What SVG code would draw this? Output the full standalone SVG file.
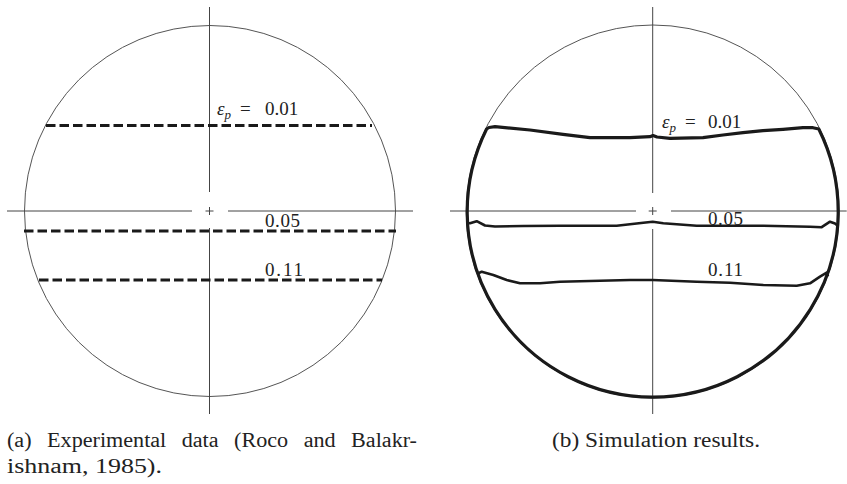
<svg xmlns="http://www.w3.org/2000/svg" width="847" height="484" viewBox="0 0 847 484">
<style>
.bg{fill:#fff}
.thin{fill:none;stroke:#555;stroke-width:1}
.axis{fill:none;stroke:#444;stroke-width:1}
.dash{fill:none;stroke:#1a1a1a;stroke-width:3;stroke-dasharray:9.5 4}
.thick{fill:none;stroke:#1a1a1a;stroke-width:2.6;stroke-linejoin:round}
.bound{fill:none;stroke:#1a1a1a;stroke-width:3.2;stroke-linejoin:round}
.lbl{font-family:"Liberation Serif","DejaVu Serif",serif;font-size:19px;fill:#222}
.cap{font-family:"Liberation Serif","DejaVu Serif",serif;font-size:20px;fill:#222}
.it{font-style:italic}
</style>
<rect class="bg" x="0" y="0" width="847" height="484"/>
<g id="panel-a">
  <circle class="thin" cx="210" cy="211" r="185.5"/>
  <path class="axis" d="M209.5,7 V192 M209.5,228 V414 M7,211 H192 M228,211 H413 M205.5,211 H213.5 M209.5,207 V215"/>
  <g id="lines-a">
    <line class="dash" x1="46" y1="125.5" x2="372" y2="125.5"/>
    <line class="dash" x1="24" y1="231" x2="396" y2="231"/>
    <line class="dash" x1="39" y1="280" x2="382" y2="280"/>
  </g>
  <text class="lbl" x="217" y="115"><tspan class="it">ε</tspan><tspan class="it" font-size="13" dy="4">p</tspan><tspan x="240" dy="-4">=</tspan><tspan x="265">0.01</tspan></text>
  <text class="lbl" x="265" y="227" textLength="35">0.05</text>
  <text class="lbl" x="265" y="275.5" textLength="38">0.11</text>
</g>
<g id="panel-b">
  <circle class="thin" cx="652.7" cy="211.5" r="186.5"/>
  <path class="axis" d="M652.7,7 V193 M652.7,229 V414 M450,211 H636 M671,211 H846.7 M648.7,211 H656.7 M652.7,207 V215"/>
  <g id="contours-b">
    <path class="bound" d="M486.6,129 L489,127.5 L495,126.7 L530,130 L563,134.3 L590,137.7 L630,137.7 L650,136.7 L653,135.5 L657,137 L670,138.3 L703,137.7 L723,135 L743,132.7 L763,130.7 L783,129.3 L803,127.7 L813,127.7 L818.8,129 A185.5,185.5 0 1 1 486.6,129 Z"/>
    <path class="thick" d="M467.6,223 L470,223.3 L476.7,221.2 L485,225.5 L495,226.5 L523,226 L560,225.7 L616.7,225.7 L643.3,222.7 L652.7,221.7 L663.3,223.3 L696.7,225.7 L763.3,225.7 L810,226.7 L821.7,227.2 L830,221.7 L835,223.5 L838,226"/>
    <path class="thick" d="M478,273.5 L481.7,271.7 L493.3,275 L506.7,280 L520,283.3 L540,283.3 L560,281.7 L630,280 L652.7,280 L696.7,281.7 L730,282.7 L763.3,285 L796.7,285.7 L810,283.3 L820,276.7 L826.7,272.7 L828,276.5"/>
  </g>
  <text class="lbl" x="662" y="127.5"><tspan class="it">ε</tspan><tspan class="it" font-size="13" dy="4">p</tspan><tspan x="685" dy="-4">=</tspan><tspan x="708">0.01</tspan></text>
  <text class="lbl" x="708" y="225" textLength="35">0.05</text>
  <text class="lbl" x="708" y="276" textLength="35">0.11</text>
</g>
<g id="captions">
  <text class="cap" x="7" y="447" word-spacing="9" textLength="410" lengthAdjust="spacingAndGlyphs">(a) Experimental data (Roco and Balakr-</text>
  <text class="cap" x="7" y="473" textLength="155" lengthAdjust="spacingAndGlyphs">ishnam, 1985).</text>
  <text class="cap" x="552" y="447" textLength="208" lengthAdjust="spacingAndGlyphs">(b) Simulation results.</text>
</g>
</svg>
